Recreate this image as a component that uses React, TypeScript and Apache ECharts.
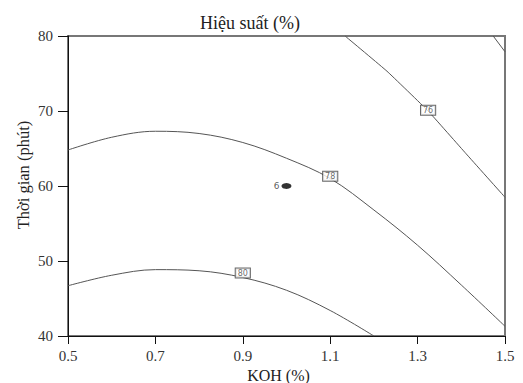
import React, { useEffect, useRef } from "react";
import * as echarts from "echarts";

const xTicks = [0.5, 0.7, 0.9, 1.1, 1.3, 1.5];
const contour80: [number, number][] = [
  [0.5, 46.7], [0.6, 48.1], [0.7, 48.85], [0.8, 48.7], [0.9, 47.8], [1.0, 46.1], [1.1, 43.4], [1.2, 40.0],
];
const contour78: [number, number][] = [
  [0.5, 64.8], [0.6, 66.5], [0.7, 67.3], [0.8, 67.0], [0.9, 65.8], [1.0, 63.7], [1.1, 61.0], [1.2, 56.8], [1.3, 52.1], [1.4, 46.8], [1.5, 41.3],
];
const contour76: [number, number][] = [
  [1.134, 80], [1.23, 75.3], [1.324, 70.0], [1.411, 64.3], [1.5, 58.5],
];
const contour74: [number, number][] = [
  [1.473, 80], [1.5, 77.9],
];
const contourLabels: { value: [number, number]; text: string }[] = [
  { value: [0.9, 48.4], text: "80" },
  { value: [1.1, 61.3], text: "78" },
  { value: [1.324, 70.1], text: "76" },
];
const designPoints: { value: [number, number]; text: string }[] = [
  { value: [1.0, 60], text: "6" },
];

const serif = "'Liberation Serif', 'Times New Roman', serif";

export default function App() {
  const ref = useRef<HTMLDivElement>(null);
  useEffect(() => {
    if (!ref.current) return;
    const chart = echarts.init(ref.current, undefined, { renderer: "svg" });
    const lineStyle = { color: "#555", width: 1 };
    const mkLine = (data: [number, number][], smooth: number) => ({
      type: "line",
      data,
      smooth,
      symbol: "none",
      lineStyle,
      silent: true,
      z: 2,
    });
    chart.setOption({
      animation: false,
      backgroundColor: "#fff",
      title: {
        text: "Hiệu suất (%)",
        left: 245,
        textAlign: "center",
        top: 9,
        textStyle: { fontFamily: serif, fontSize: 18, fontWeight: "normal", color: "#222" },
      },
      grid: {
        left: 68,
        right: 18,
        top: 36,
        bottom: 47,
        containLabel: false,
        outerBoundsMode: "none",
        show: true,
        borderColor: "#777",
        borderWidth: 2,
      },
      xAxis: {
        type: "value",
        min: 0.5,
        max: 1.5,
        name: "KOH (%)",
        nameLocation: "middle",
        nameGap: 27,
        nameTextStyle: { fontFamily: serif, fontSize: 16, color: "#222", padding: [0, 16, 0, 0] },
        axisLine: { show: true, onZero: false, lineStyle: { color: "#111", width: 1 } },
        axisTick: { show: true, length: 8, customValues: xTicks, lineStyle: { color: "#111" } },
        axisLabel: {
          customValues: xTicks,
          margin: 12,
          fontFamily: serif,
          fontSize: 15,
          color: "#333",
          formatter: (v: number) => v.toFixed(1),
        },
        splitLine: { show: false },
      },
      yAxis: {
        type: "value",
        min: 40,
        max: 80,
        interval: 10,
        axisLine: { show: true, onZero: false, lineStyle: { color: "#111", width: 1 } },
        axisTick: { show: true, length: 10, lineStyle: { color: "#111" } },
        axisLabel: { margin: 15, fontFamily: serif, fontSize: 15, color: "#333" },
        splitLine: { show: false },
      },
      graphic: [
        {
          type: "text",
          x: 23,
          y: 175,
          rotation: Math.PI / 2,
          style: {
            text: "Thời gian (phút)",
            fontFamily: serif,
            fontSize: 16.5,
            fill: "#222",
            align: "center",
            verticalAlign: "middle",
          },
        },
      ],
      series: [
        mkLine(contour80, 0.35),
        mkLine(contour78, 0.35),
        mkLine(contour76, 0.1),
        mkLine(contour74, 0),
        {
          type: "scatter",
          data: contourLabels.map((d) => ({ value: d.value, name: d.text })),
          symbolSize: 0,
          silent: true,
          z: 5,
          label: {
            show: true,
            position: "inside",
            formatter: (p: any) => p.name,
            fontFamily: "'DejaVu Sans', sans-serif",
            fontSize: 8,
            color: "#444",
            backgroundColor: "#fff",
            borderColor: "#444",
            borderWidth: 1,
            padding: [1, 2, 0, 2],
          },
        },
        {
          type: "scatter",
          data: designPoints.map((d) => ({ value: d.value, name: d.text })),
          symbol: "circle",
          symbolSize: [10, 6],
          itemStyle: { color: "#000" },
          silent: true,
          z: 6,
          label: {
            show: true,
            position: "left",
            distance: 2,
            formatter: (p: any) => p.name,
            fontFamily: "'DejaVu Sans', sans-serif",
            fontSize: 9,
            color: "#333",
          },
        },
      ],
    });
    return () => chart.dispose();
  }, []);
  return <div ref={ref} style={{ width: 523, height: 383, position: "absolute", left: 0, top: 0 }} />;
}
